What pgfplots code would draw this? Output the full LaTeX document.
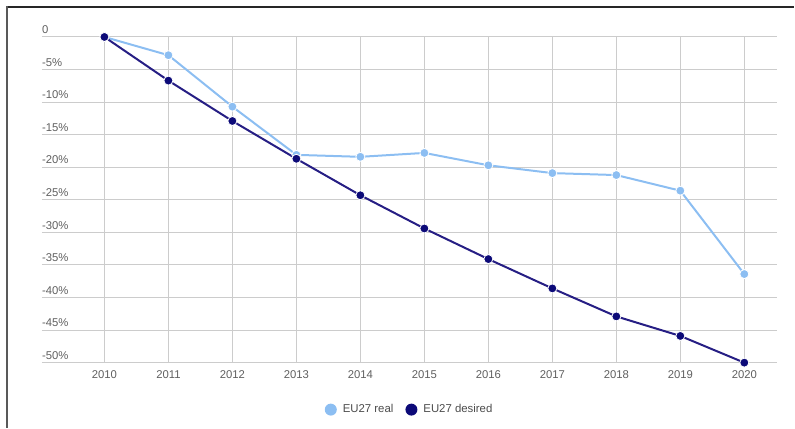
\documentclass[border=0pt]{standalone}
\usepackage{pgfplots}
\pgfplotsset{compat=1.18}
\usepackage{fontspec}
\setmainfont{Liberation Sans}

\definecolor{realblue}{RGB}{140,190,242}
\definecolor{desiredline}{RGB}{38,30,132}
\definecolor{desiredmark}{RGB}{12,10,120}
\definecolor{gridgray}{RGB}{204,204,204}
\definecolor{labelgray}{RGB}{95,95,95}
\definecolor{legendgray}{RGB}{75,75,75}

\begin{document}
\begin{tikzpicture}
\begin{axis}[
  at={(0pt,0pt)}, anchor=south west,
  scale only axis,
  width=736pt, height=326pt,
  xmin=2009.024, xmax=2020.515,
  ymin=-50, ymax=0,
  clip=false,
  axis line style={draw=none},
  tick style={draw=none},
  grid=major,
  major grid style={color=gridgray, line width=1pt},
  xtick={2010,2011,...,2020},
  xticklabels={2010,2011,2012,2013,2014,2015,2016,2017,2018,2019,2020},
  ytick={-50,-45,...,0},
  yticklabels={-50\%,-45\%,-40\%,-35\%,-30\%,-25\%,-20\%,-15\%,-10\%,-5\%,0},
  tick label style={font=\fontsize{11.3}{13}\selectfont, text=labelgray},
  yticklabel style={anchor=south west, inner sep=0pt, yshift=3pt},
  xticklabel style={anchor=north, inner sep=0pt, yshift=-8pt},
  legend columns=2,
  legend style={
    at={(0.5,0)}, anchor=center, yshift=-47pt,
    draw=none, fill=none,
    font=\fontsize{11.4}{13}\selectfont, text=legendgray,
    /tikz/every odd column/.append style={column sep=4pt},
    /tikz/every even column/.append style={column sep=10pt},
  },
  legend image code/.code={\fill[#1, draw=none] (6pt,0pt) circle (6pt);},
]

% Emissions change relative to 2010, real path
\addplot[realblue, line width=2pt, mark=*, mark size=4.5pt,
  mark options={fill=realblue, draw=white, line width=0.8pt}, forget plot]
  coordinates {
  (2010,0) (2011,-2.8) (2012,-10.7) (2013,-18.1) (2014,-18.4) (2015,-17.8)
  (2016,-19.7) (2017,-20.9) (2018,-21.2) (2019,-23.6) (2020,-36.4)
  };

% Target path
\addplot[desiredline, line width=2pt, mark=*, mark size=4.5pt,
  mark options={fill=desiredmark, draw=white, line width=0.8pt}, forget plot]
  coordinates {
  (2010,0) (2011,-6.7) (2012,-12.9) (2013,-18.7) (2014,-24.3) (2015,-29.4)
  (2016,-34.1) (2017,-38.6) (2018,-42.9) (2019,-45.9) (2020,-50)
  };

\addlegendimage{fill=realblue, draw=none}
\addlegendentry{EU27 real}
\addlegendimage{fill=desiredmark, draw=none}
\addlegendentry{EU27 desired}
\end{axis}

% frame lines
\draw[line width=1.5pt, color=black!85] (-35pt,356pt) -- (753pt,356pt);
\draw[line width=1.5pt, color=black!65] (-35pt,-65pt) -- (-35pt,356.75pt);
\path[use as bounding box] (-42pt,-65pt) rectangle (753pt,363pt);
\end{tikzpicture}
\end{document}
